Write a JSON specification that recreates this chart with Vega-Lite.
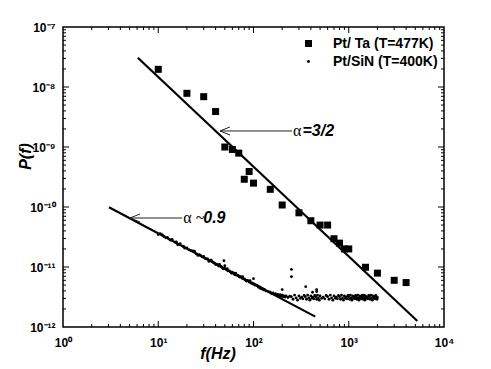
{
  "$schema": "https://vega.github.io/schema/vega-lite/v6.json",
  "width": 381,
  "height": 300,
  "autosize": {"type": "none"},
  "padding": {"left": 63, "top": 27, "right": 47, "bottom": 42},
  "background": "white",
  "config": {
    "view": {"stroke": "black", "strokeWidth": 1.5}
  },
  "data": {"values": [
      {"k": "p", "f": 10, "P": 1.97e-8, "s": "Ta"},
      {"k": "p", "f": 20, "P": 7.85e-9, "s": "Ta"},
      {"k": "p", "f": 30, "P": 6.9e-9, "s": "Ta"},
      {"k": "p", "f": 40, "P": 3.9e-9, "s": "Ta"},
      {"k": "p", "f": 50, "P": 1.0e-9, "s": "Ta"},
      {"k": "p", "f": 60, "P": 9.1e-10, "s": "Ta"},
      {"k": "p", "f": 70, "P": 7.9e-10, "s": "Ta"},
      {"k": "p", "f": 80, "P": 2.9e-10, "s": "Ta"},
      {"k": "p", "f": 90, "P": 3.9e-10, "s": "Ta"},
      {"k": "p", "f": 100, "P": 2.5e-10, "s": "Ta"},
      {"k": "p", "f": 150, "P": 1.97e-10, "s": "Ta"},
      {"k": "p", "f": 200, "P": 1.08e-10, "s": "Ta"},
      {"k": "p", "f": 300, "P": 8.0e-11, "s": "Ta"},
      {"k": "p", "f": 400, "P": 5.9e-11, "s": "Ta"},
      {"k": "p", "f": 500, "P": 5.0e-11, "s": "Ta"},
      {"k": "p", "f": 600, "P": 5.0e-11, "s": "Ta"},
      {"k": "p", "f": 700, "P": 2.96e-11, "s": "Ta"},
      {"k": "p", "f": 800, "P": 2.5e-11, "s": "Ta"},
      {"k": "p", "f": 900, "P": 2.0e-11, "s": "Ta"},
      {"k": "p", "f": 1000, "P": 2.0e-11, "s": "Ta"},
      {"k": "p", "f": 1500, "P": 9.9e-12, "s": "Ta"},
      {"k": "p", "f": 2000, "P": 7.9e-12, "s": "Ta"},
      {"k": "p", "f": 3000, "P": 6.0e-12, "s": "Ta"},
      {"k": "p", "f": 4000, "P": 5.5e-12, "s": "Ta"},
      {"k": "p", "f": 10, "P": 3.48e-11, "s": "SiN"},
      {"k": "p", "f": 10.5, "P": 3.6e-11, "s": "SiN"},
      {"k": "p", "f": 11, "P": 3.45e-11, "s": "SiN"},
      {"k": "p", "f": 11.5, "P": 3.2e-11, "s": "SiN"},
      {"k": "p", "f": 12, "P": 3.06e-11, "s": "SiN"},
      {"k": "p", "f": 12.5, "P": 3.1e-11, "s": "SiN"},
      {"k": "p", "f": 13, "P": 2.92e-11, "s": "SiN"},
      {"k": "p", "f": 13.5, "P": 2.8e-11, "s": "SiN"},
      {"k": "p", "f": 14, "P": 2.88e-11, "s": "SiN"},
      {"k": "p", "f": 15, "P": 2.59e-11, "s": "SiN"},
      {"k": "p", "f": 15.5, "P": 2.62e-11, "s": "SiN"},
      {"k": "p", "f": 16, "P": 2.35e-11, "s": "SiN"},
      {"k": "p", "f": 17, "P": 2.45e-11, "s": "SiN"},
      {"k": "p", "f": 18, "P": 2.23e-11, "s": "SiN"},
      {"k": "p", "f": 18.5, "P": 2.2e-11, "s": "SiN"},
      {"k": "p", "f": 19, "P": 2.06e-11, "s": "SiN"},
      {"k": "p", "f": 20, "P": 2.08e-11, "s": "SiN"},
      {"k": "p", "f": 21, "P": 1.93e-11, "s": "SiN"},
      {"k": "p", "f": 22, "P": 1.88e-11, "s": "SiN"},
      {"k": "p", "f": 23, "P": 1.85e-11, "s": "SiN"},
      {"k": "p", "f": 24, "P": 1.83e-11, "s": "SiN"},
      {"k": "p", "f": 25, "P": 1.66e-11, "s": "SiN"},
      {"k": "p", "f": 26, "P": 1.56e-11, "s": "SiN"},
      {"k": "p", "f": 27, "P": 1.6e-11, "s": "SiN"},
      {"k": "p", "f": 28, "P": 1.54e-11, "s": "SiN"},
      {"k": "p", "f": 29, "P": 1.47e-11, "s": "SiN"},
      {"k": "p", "f": 30, "P": 1.5e-11, "s": "SiN"},
      {"k": "p", "f": 31, "P": 1.4e-11, "s": "SiN"},
      {"k": "p", "f": 32, "P": 1.37e-11, "s": "SiN"},
      {"k": "p", "f": 33, "P": 1.36e-11, "s": "SiN"},
      {"k": "p", "f": 34, "P": 1.24e-11, "s": "SiN"},
      {"k": "p", "f": 35, "P": 1.3e-11, "s": "SiN"},
      {"k": "p", "f": 36, "P": 1.3e-11, "s": "SiN"},
      {"k": "p", "f": 37, "P": 1.22e-11, "s": "SiN"},
      {"k": "p", "f": 38, "P": 1.19e-11, "s": "SiN"},
      {"k": "p", "f": 39, "P": 1.16e-11, "s": "SiN"},
      {"k": "p", "f": 40, "P": 1.1e-11, "s": "SiN"},
      {"k": "p", "f": 41, "P": 1.12e-11, "s": "SiN"},
      {"k": "p", "f": 42, "P": 1.09e-11, "s": "SiN"},
      {"k": "p", "f": 43, "P": 1.04e-11, "s": "SiN"},
      {"k": "p", "f": 44, "P": 1.1e-11, "s": "SiN"},
      {"k": "p", "f": 45, "P": 1.03e-11, "s": "SiN"},
      {"k": "p", "f": 46, "P": 1.01e-11, "s": "SiN"},
      {"k": "p", "f": 47, "P": 9.7e-12, "s": "SiN"},
      {"k": "p", "f": 48, "P": 9.33e-12, "s": "SiN"},
      {"k": "p", "f": 49, "P": 1.27e-11, "s": "SiN"},
      {"k": "p", "f": 50, "P": 1.05e-11, "s": "SiN"},
      {"k": "p", "f": 50, "P": 9.44e-12, "s": "SiN"},
      {"k": "p", "f": 52, "P": 9.0e-12, "s": "SiN"},
      {"k": "p", "f": 53, "P": 9.4e-12, "s": "SiN"},
      {"k": "p", "f": 54, "P": 8.6e-12, "s": "SiN"},
      {"k": "p", "f": 56, "P": 8.59e-12, "s": "SiN"},
      {"k": "p", "f": 57, "P": 8.3e-12, "s": "SiN"},
      {"k": "p", "f": 59, "P": 7.84e-12, "s": "SiN"},
      {"k": "p", "f": 60, "P": 8.2e-12, "s": "SiN"},
      {"k": "p", "f": 62, "P": 7.87e-12, "s": "SiN"},
      {"k": "p", "f": 63, "P": 7.5e-12, "s": "SiN"},
      {"k": "p", "f": 65, "P": 7.9e-12, "s": "SiN"},
      {"k": "p", "f": 66, "P": 7.3e-12, "s": "SiN"},
      {"k": "p", "f": 68, "P": 7.29e-12, "s": "SiN"},
      {"k": "p", "f": 70, "P": 7.1e-12, "s": "SiN"},
      {"k": "p", "f": 71, "P": 6.8e-12, "s": "SiN"},
      {"k": "p", "f": 73, "P": 6.9e-12, "s": "SiN"},
      {"k": "p", "f": 74, "P": 6.79e-12, "s": "SiN"},
      {"k": "p", "f": 76, "P": 6.5e-12, "s": "SiN"},
      {"k": "p", "f": 77, "P": 6.88e-12, "s": "SiN"},
      {"k": "p", "f": 79, "P": 6.3e-12, "s": "SiN"},
      {"k": "p", "f": 80, "P": 6.36e-12, "s": "SiN"},
      {"k": "p", "f": 82, "P": 6.1e-12, "s": "SiN"},
      {"k": "p", "f": 84, "P": 5.83e-12, "s": "SiN"},
      {"k": "p", "f": 86, "P": 6.0e-12, "s": "SiN"},
      {"k": "p", "f": 88, "P": 5.87e-12, "s": "SiN"},
      {"k": "p", "f": 90, "P": 5.6e-12, "s": "SiN"},
      {"k": "p", "f": 92, "P": 5.92e-12, "s": "SiN"},
      {"k": "p", "f": 94, "P": 5.4e-12, "s": "SiN"},
      {"k": "p", "f": 96, "P": 5.45e-12, "s": "SiN"},
      {"k": "p", "f": 98, "P": 5.2e-12, "s": "SiN"},
      {"k": "p", "f": 100, "P": 5.27e-12, "s": "SiN"},
      {"k": "p", "f": 100, "P": 6.4e-12, "s": "SiN"},
      {"k": "p", "f": 103, "P": 5.0e-12, "s": "SiN"},
      {"k": "p", "f": 105, "P": 5.06e-12, "s": "SiN"},
      {"k": "p", "f": 108, "P": 4.9e-12, "s": "SiN"},
      {"k": "p", "f": 110, "P": 4.87e-12, "s": "SiN"},
      {"k": "p", "f": 113, "P": 4.6e-12, "s": "SiN"},
      {"k": "p", "f": 115, "P": 4.69e-12, "s": "SiN"},
      {"k": "p", "f": 118, "P": 4.4e-12, "s": "SiN"},
      {"k": "p", "f": 120, "P": 4.52e-12, "s": "SiN"},
      {"k": "p", "f": 123, "P": 4.3e-12, "s": "SiN"},
      {"k": "p", "f": 125, "P": 4.37e-12, "s": "SiN"},
      {"k": "p", "f": 128, "P": 4.15e-12, "s": "SiN"},
      {"k": "p", "f": 130, "P": 4.23e-12, "s": "SiN"},
      {"k": "p", "f": 135, "P": 4.0e-12, "s": "SiN"},
      {"k": "p", "f": 140, "P": 3.97e-12, "s": "SiN"},
      {"k": "p", "f": 145, "P": 3.85e-12, "s": "SiN"},
      {"k": "p", "f": 150, "P": 3.8e-12, "s": "SiN"},
      {"k": "p", "f": 155, "P": 3.6e-12, "s": "SiN"},
      {"k": "p", "f": 160, "P": 3.7e-12, "s": "SiN"},
      {"k": "p", "f": 165, "P": 3.5e-12, "s": "SiN"},
      {"k": "p", "f": 170, "P": 3.6e-12, "s": "SiN"},
      {"k": "p", "f": 175, "P": 3.4e-12, "s": "SiN"},
      {"k": "p", "f": 180, "P": 3.5e-12, "s": "SiN"},
      {"k": "p", "f": 185, "P": 3.3e-12, "s": "SiN"},
      {"k": "p", "f": 190, "P": 3.45e-12, "s": "SiN"},
      {"k": "p", "f": 195, "P": 3.25e-12, "s": "SiN"},
      {"k": "p", "f": 200, "P": 3.4e-12, "s": "SiN"},
      {"k": "p", "f": 200, "P": 4.2e-12, "s": "SiN"},
      {"k": "p", "f": 205, "P": 3.2e-12, "s": "SiN"},
      {"k": "p", "f": 210, "P": 3.3e-12, "s": "SiN"},
      {"k": "p", "f": 215, "P": 3.15e-12, "s": "SiN"},
      {"k": "p", "f": 220, "P": 3.3e-12, "s": "SiN"},
      {"k": "p", "f": 230, "P": 3.1e-12, "s": "SiN"},
      {"k": "p", "f": 240, "P": 3.25e-12, "s": "SiN"},
      {"k": "p", "f": 250, "P": 9.1e-12, "s": "SiN"},
      {"k": "p", "f": 250, "P": 6.9e-12, "s": "SiN"},
      {"k": "p", "f": 250, "P": 3.2e-12, "s": "SiN"},
      {"k": "p", "f": 260, "P": 2.9e-12, "s": "SiN"},
      {"k": "p", "f": 270, "P": 3.4e-12, "s": "SiN"},
      {"k": "p", "f": 280, "P": 3.05e-12, "s": "SiN"},
      {"k": "p", "f": 290, "P": 2.8e-12, "s": "SiN"},
      {"k": "p", "f": 300, "P": 3.3e-12, "s": "SiN"},
      {"k": "p", "f": 310, "P": 3.0e-12, "s": "SiN"},
      {"k": "p", "f": 320, "P": 3.15e-12, "s": "SiN"},
      {"k": "p", "f": 330, "P": 2.95e-12, "s": "SiN"},
      {"k": "p", "f": 340, "P": 3.35e-12, "s": "SiN"},
      {"k": "p", "f": 350, "P": 3.2e-12, "s": "SiN"},
      {"k": "p", "f": 353, "P": 4.7e-12, "s": "SiN"},
      {"k": "p", "f": 360, "P": 2.9e-12, "s": "SiN"},
      {"k": "p", "f": 370, "P": 3.4e-12, "s": "SiN"},
      {"k": "p", "f": 380, "P": 3.05e-12, "s": "SiN"},
      {"k": "p", "f": 390, "P": 2.8e-12, "s": "SiN"},
      {"k": "p", "f": 400, "P": 3.3e-12, "s": "SiN"},
      {"k": "p", "f": 410, "P": 3.0e-12, "s": "SiN"},
      {"k": "p", "f": 417, "P": 3.8e-12, "s": "SiN"},
      {"k": "p", "f": 420, "P": 3.15e-12, "s": "SiN"},
      {"k": "p", "f": 430, "P": 2.95e-12, "s": "SiN"},
      {"k": "p", "f": 440, "P": 3.35e-12, "s": "SiN"},
      {"k": "p", "f": 450, "P": 3.2e-12, "s": "SiN"},
      {"k": "p", "f": 460, "P": 4.2e-12, "s": "SiN"},
      {"k": "p", "f": 460, "P": 3.9e-12, "s": "SiN"},
      {"k": "p", "f": 460, "P": 2.9e-12, "s": "SiN"},
      {"k": "p", "f": 470, "P": 3.4e-12, "s": "SiN"},
      {"k": "p", "f": 480, "P": 3.05e-12, "s": "SiN"},
      {"k": "p", "f": 490, "P": 2.8e-12, "s": "SiN"},
      {"k": "p", "f": 500, "P": 3.3e-12, "s": "SiN"},
      {"k": "p", "f": 520, "P": 3.0e-12, "s": "SiN"},
      {"k": "p", "f": 540, "P": 3.15e-12, "s": "SiN"},
      {"k": "p", "f": 560, "P": 2.95e-12, "s": "SiN"},
      {"k": "p", "f": 580, "P": 3.35e-12, "s": "SiN"},
      {"k": "p", "f": 600, "P": 3.2e-12, "s": "SiN"},
      {"k": "p", "f": 620, "P": 2.9e-12, "s": "SiN"},
      {"k": "p", "f": 640, "P": 3.4e-12, "s": "SiN"},
      {"k": "p", "f": 660, "P": 3.05e-12, "s": "SiN"},
      {"k": "p", "f": 680, "P": 2.8e-12, "s": "SiN"},
      {"k": "p", "f": 700, "P": 3.3e-12, "s": "SiN"},
      {"k": "p", "f": 720, "P": 3.0e-12, "s": "SiN"},
      {"k": "p", "f": 740, "P": 3.15e-12, "s": "SiN"},
      {"k": "p", "f": 760, "P": 2.95e-12, "s": "SiN"},
      {"k": "p", "f": 780, "P": 3.35e-12, "s": "SiN"},
      {"k": "p", "f": 800, "P": 3.2e-12, "s": "SiN"},
      {"k": "p", "f": 820, "P": 2.9e-12, "s": "SiN"},
      {"k": "p", "f": 840, "P": 3.4e-12, "s": "SiN"},
      {"k": "p", "f": 860, "P": 3.05e-12, "s": "SiN"},
      {"k": "p", "f": 880, "P": 2.8e-12, "s": "SiN"},
      {"k": "p", "f": 900, "P": 3.3e-12, "s": "SiN"},
      {"k": "p", "f": 920, "P": 3.0e-12, "s": "SiN"},
      {"k": "p", "f": 940, "P": 3.15e-12, "s": "SiN"},
      {"k": "p", "f": 960, "P": 2.95e-12, "s": "SiN"},
      {"k": "p", "f": 980, "P": 3.35e-12, "s": "SiN"},
      {"k": "p", "f": 1000, "P": 3.2e-12, "s": "SiN"},
      {"k": "p", "f": 1020, "P": 2.9e-12, "s": "SiN"},
      {"k": "p", "f": 1040, "P": 3.4e-12, "s": "SiN"},
      {"k": "p", "f": 1060, "P": 3.05e-12, "s": "SiN"},
      {"k": "p", "f": 1080, "P": 2.8e-12, "s": "SiN"},
      {"k": "p", "f": 1100, "P": 3.3e-12, "s": "SiN"},
      {"k": "p", "f": 1120, "P": 3.0e-12, "s": "SiN"},
      {"k": "p", "f": 1140, "P": 3.15e-12, "s": "SiN"},
      {"k": "p", "f": 1160, "P": 2.95e-12, "s": "SiN"},
      {"k": "p", "f": 1180, "P": 3.35e-12, "s": "SiN"},
      {"k": "p", "f": 1200, "P": 3.2e-12, "s": "SiN"},
      {"k": "p", "f": 1220, "P": 2.9e-12, "s": "SiN"},
      {"k": "p", "f": 1240, "P": 3.4e-12, "s": "SiN"},
      {"k": "p", "f": 1260, "P": 3.05e-12, "s": "SiN"},
      {"k": "p", "f": 1280, "P": 2.8e-12, "s": "SiN"},
      {"k": "p", "f": 1300, "P": 3.3e-12, "s": "SiN"},
      {"k": "p", "f": 1320, "P": 3.0e-12, "s": "SiN"},
      {"k": "p", "f": 1340, "P": 3.15e-12, "s": "SiN"},
      {"k": "p", "f": 1360, "P": 2.95e-12, "s": "SiN"},
      {"k": "p", "f": 1380, "P": 3.35e-12, "s": "SiN"},
      {"k": "p", "f": 1400, "P": 3.2e-12, "s": "SiN"},
      {"k": "p", "f": 1420, "P": 2.9e-12, "s": "SiN"},
      {"k": "p", "f": 1440, "P": 3.4e-12, "s": "SiN"},
      {"k": "p", "f": 1460, "P": 3.05e-12, "s": "SiN"},
      {"k": "p", "f": 1480, "P": 2.8e-12, "s": "SiN"},
      {"k": "p", "f": 1500, "P": 3.3e-12, "s": "SiN"},
      {"k": "p", "f": 1530, "P": 3.0e-12, "s": "SiN"},
      {"k": "p", "f": 1560, "P": 3.15e-12, "s": "SiN"},
      {"k": "p", "f": 1590, "P": 2.95e-12, "s": "SiN"},
      {"k": "p", "f": 1620, "P": 3.35e-12, "s": "SiN"},
      {"k": "p", "f": 1650, "P": 3.2e-12, "s": "SiN"},
      {"k": "p", "f": 1680, "P": 2.9e-12, "s": "SiN"},
      {"k": "p", "f": 1710, "P": 3.4e-12, "s": "SiN"},
      {"k": "p", "f": 1740, "P": 3.05e-12, "s": "SiN"},
      {"k": "p", "f": 1770, "P": 2.8e-12, "s": "SiN"},
      {"k": "p", "f": 1800, "P": 3.3e-12, "s": "SiN"},
      {"k": "p", "f": 1830, "P": 3.0e-12, "s": "SiN"},
      {"k": "p", "f": 1860, "P": 3.15e-12, "s": "SiN"},
      {"k": "p", "f": 1890, "P": 2.95e-12, "s": "SiN"},
      {"k": "p", "f": 1920, "P": 3.35e-12, "s": "SiN"},
      {"k": "p", "f": 1950, "P": 3.2e-12, "s": "SiN"},
      {"k": "p", "f": 1980, "P": 2.9e-12, "s": "SiN"},
      {"k": "p", "f": 2000, "P": 3.1e-12, "s": "SiN"},
      {"k": "fit", "id": "a", "f": 6.1, "P": 3.08e-8},
      {"k": "fit", "id": "a", "f": 5250, "P": 1.26e-12},
      {"k": "fit", "id": "b", "f": 3.04, "P": 9.9e-11},
      {"k": "fit", "id": "b", "f": 445, "P": 1.49e-12},
      {"k": "shaft", "id": "a", "f": 44.5, "P": 1.85e-9},
      {"k": "shaft", "id": "a", "f": 254, "P": 1.85e-9},
      {"k": "shaft", "id": "b", "f": 5.05, "P": 6.56e-11},
      {"k": "shaft", "id": "b", "f": 17.8, "P": 6.56e-11},
      {"k": "head", "f": 44.5, "P": 1.85e-9},
      {"k": "head", "f": 5.05, "P": 6.56e-11},
      {"k": "greek", "t": "α", "f": 260, "P": 1.85e-9},
      {"k": "greek", "t": "α ~", "f": 18.3, "P": 6.5e-11},
      {"k": "num", "t": "=3/2", "f": 326.8, "P": 1.85e-9},
      {"k": "num", "t": "0.9", "f": 29.7, "P": 6.5e-11},
      {"k": "xM", "v": 10}, {"k": "xM", "v": 100}, {"k": "xM", "v": 1000},
      {"k": "xm", "v": 2}, {"k": "xm", "v": 3}, {"k": "xm", "v": 4}, {"k": "xm", "v": 5}, {"k": "xm", "v": 6}, {"k": "xm", "v": 7}, {"k": "xm", "v": 8}, {"k": "xm", "v": 9},
      {"k": "xm", "v": 20}, {"k": "xm", "v": 30}, {"k": "xm", "v": 40}, {"k": "xm", "v": 50}, {"k": "xm", "v": 60}, {"k": "xm", "v": 70}, {"k": "xm", "v": 80}, {"k": "xm", "v": 90},
      {"k": "xm", "v": 200}, {"k": "xm", "v": 300}, {"k": "xm", "v": 400}, {"k": "xm", "v": 500}, {"k": "xm", "v": 600}, {"k": "xm", "v": 700}, {"k": "xm", "v": 800}, {"k": "xm", "v": 900},
      {"k": "xm", "v": 2000}, {"k": "xm", "v": 3000}, {"k": "xm", "v": 4000}, {"k": "xm", "v": 5000}, {"k": "xm", "v": 6000}, {"k": "xm", "v": 7000}, {"k": "xm", "v": 8000}, {"k": "xm", "v": 9000},
      {"k": "yM", "v": 1e-11}, {"k": "yM", "v": 1e-10}, {"k": "yM", "v": 1e-9}, {"k": "yM", "v": 1e-8},
      {"k": "ym", "v": 2e-12}, {"k": "ym", "v": 3e-12}, {"k": "ym", "v": 4e-12}, {"k": "ym", "v": 5e-12}, {"k": "ym", "v": 6e-12}, {"k": "ym", "v": 7e-12}, {"k": "ym", "v": 8e-12}, {"k": "ym", "v": 9e-12},
      {"k": "ym", "v": 2e-11}, {"k": "ym", "v": 3e-11}, {"k": "ym", "v": 4e-11}, {"k": "ym", "v": 5e-11}, {"k": "ym", "v": 6e-11}, {"k": "ym", "v": 7e-11}, {"k": "ym", "v": 8e-11}, {"k": "ym", "v": 9e-11},
      {"k": "ym", "v": 2e-10}, {"k": "ym", "v": 3e-10}, {"k": "ym", "v": 4e-10}, {"k": "ym", "v": 5e-10}, {"k": "ym", "v": 6e-10}, {"k": "ym", "v": 7e-10}, {"k": "ym", "v": 8e-10}, {"k": "ym", "v": 9e-10},
      {"k": "ym", "v": 2e-9}, {"k": "ym", "v": 3e-9}, {"k": "ym", "v": 4e-9}, {"k": "ym", "v": 5e-9}, {"k": "ym", "v": 6e-9}, {"k": "ym", "v": 7e-9}, {"k": "ym", "v": 8e-9}, {"k": "ym", "v": 9e-9},
      {"k": "ym", "v": 2e-8}, {"k": "ym", "v": 3e-8}, {"k": "ym", "v": 4e-8}, {"k": "ym", "v": 5e-8}, {"k": "ym", "v": 6e-8}, {"k": "ym", "v": 7e-8}, {"k": "ym", "v": 8e-8}, {"k": "ym", "v": 9e-8}
  ]},
  "resolve": {"axis": {"x": "independent", "y": "independent"}},
  "layer": [
    {
      "transform": [{"filter": "datum.k=='p'"}],
      "mark": {"type": "point", "filled": true, "opacity": 1, "color": "black"},
      "encoding": {
        "x": {
          "field": "f", "type": "quantitative",
          "scale": {"type": "log", "domain": [1, 10000], "nice": false},
          "axis": {
            "orient": "bottom",
            "values": [1, 10, 100, 1000, 10000],
            "domain": false,
            "ticks": false,
            "grid": false,
            "labelPadding": 10,
            "labelFlush": false,
            "labelColor": "black",
            "labelFont": "Liberation Sans",
            "labelFontWeight": "bold",
            "labelFontSize": 12,
            "labelExpr": "datum.value==1?'10⁰':datum.value==10?'10¹':datum.value==100?'10²':datum.value==1000?'10³':datum.value==10000?'10⁴':''",
            "title": "f(Hz)",
            "titleColor": "black",
            "titleFont": "Liberation Sans",
            "titleFontSize": 16,
            "titleFontWeight": "bold",
            "titleFontStyle": "italic",
            "titleX": 154.5,
            "titleY": 26,
            "titleAlign": "center",
            "titleBaseline": "middle"
          }
        },
        "y": {
          "field": "P", "type": "quantitative",
          "scale": {"type": "log", "domain": [1e-12, 1e-7], "nice": false},
          "axis": {
            "orient": "left",
            "values": [1e-12, 1e-11, 1e-10, 1e-9, 1e-8, 1e-7],
            "domain": false,
            "ticks": false,
            "grid": false,
            "labelPadding": 8,
            "labelFlush": false,
            "labelColor": "black",
            "labelFont": "Liberation Sans",
            "labelFontWeight": "bold",
            "labelFontSize": 12,
            "labelExpr": "datum.value==1e-12?'10⁻¹²':datum.value==1e-11?'10⁻¹¹':datum.value==1e-10?'10⁻¹⁰':datum.value==1e-9?'10⁻⁹':datum.value==1e-8?'10⁻⁸':datum.value==1e-7?'10⁻⁷':''",
            "title": "P(f)",
            "titleColor": "black",
            "titleFont": "Liberation Sans",
            "titleFontSize": 16,
            "titleFontWeight": "bold",
            "titleFontStyle": "italic",
            "titleX": -38,
            "titleY": 129,
            "titleAlign": "center",
            "titleBaseline": "middle"
          }
        },
        "shape": {
          "field": "s", "type": "nominal",
          "scale": {"domain": ["Ta", "SiN"], "range": ["square", "circle"]},
          "legend": {
            "title": null,
            "orient": "none",
            "legendX": 238.5,
            "legendY": 9.5,
            "padding": 0,
            "labelExpr": "datum.value=='Ta'?'Pt/ Ta (T=477K)':'Pt/SiN (T=400K)'",
            "labelFont": "Liberation Sans",
            "labelFontSize": 14,
            "labelFontWeight": "bold",
            "labelColor": "black",
            "labelOffset": 17.5,
            "symbolFillColor": "black",
            "symbolStrokeWidth": 0,
            "rowPadding": 4
          }
        },
        "size": {
          "field": "s", "type": "nominal",
          "scale": {"type": "point", "domain": ["Ta", "SiN"], "range": [49, 8], "padding": 0}
        }
      }
    },
    {
      "transform": [{"filter": "datum.k=='fit'"}],
      "mark": {"type": "line", "color": "black", "strokeWidth": 2.2},
      "encoding": {
        "x": {"field": "f", "type": "quantitative", "scale": {"type": "log", "domain": [1, 10000], "nice": false}, "axis": null},
        "y": {"field": "P", "type": "quantitative", "scale": {"type": "log", "domain": [1e-12, 1e-7], "nice": false}, "axis": null},
        "detail": {"field": "id"}
      }
    },
    {
      "transform": [{"filter": "datum.k=='shaft'"}],
      "mark": {"type": "line", "color": "#222222", "strokeWidth": 1},
      "encoding": {
        "x": {"field": "f", "type": "quantitative", "scale": {"type": "log", "domain": [1, 10000], "nice": false}, "axis": null},
        "y": {"field": "P", "type": "quantitative", "scale": {"type": "log", "domain": [1e-12, 1e-7], "nice": false}, "axis": null},
        "detail": {"field": "id"}
      }
    },
    {
      "transform": [{"filter": "datum.k=='head'"}],
      "mark": {"type": "point", "shape": "M2,-0.8L0,0L2,0.8", "filled": false, "stroke": "#222222", "strokeWidth": 1, "size": 100, "opacity": 1},
      "encoding": {
        "x": {"field": "f", "type": "quantitative", "scale": {"type": "log", "domain": [1, 10000], "nice": false}, "axis": null},
        "y": {"field": "P", "type": "quantitative", "scale": {"type": "log", "domain": [1e-12, 1e-7], "nice": false}, "axis": null}
      }
    },
    {
      "transform": [{"filter": "datum.k=='greek'"}],
      "mark": {"type": "text", "font": "Liberation Serif", "fontSize": 16, "align": "left", "baseline": "middle", "color": "black"},
      "encoding": {
        "x": {"field": "f", "type": "quantitative", "scale": {"type": "log", "domain": [1, 10000], "nice": false}, "axis": null},
        "y": {"field": "P", "type": "quantitative", "scale": {"type": "log", "domain": [1e-12, 1e-7], "nice": false}, "axis": null},
        "text": {"field": "t"}
      }
    },
    {
      "transform": [{"filter": "datum.k=='num'"}],
      "mark": {"type": "text", "font": "Liberation Sans", "fontSize": 16, "fontWeight": "bold", "fontStyle": "italic", "align": "left", "baseline": "middle", "color": "black"},
      "encoding": {
        "x": {"field": "f", "type": "quantitative", "scale": {"type": "log", "domain": [1, 10000], "nice": false}, "axis": null},
        "y": {"field": "P", "type": "quantitative", "scale": {"type": "log", "domain": [1e-12, 1e-7], "nice": false}, "axis": null},
        "text": {"field": "t"}
      }
    },
    {
      "transform": [{"filter": "datum.k=='xM'"}],
      "mark": {"type": "tick", "orient": "vertical", "size": 6, "thickness": 1, "color": "black", "opacity": 1, "yOffset": -3},
      "encoding": {
        "x": {"field": "v", "type": "quantitative", "scale": {"type": "log", "domain": [1, 10000], "nice": false}, "axis": null},
        "y": {"datum": 1e-12, "type": "quantitative", "scale": {"type": "log", "domain": [1e-12, 1e-7], "nice": false}, "axis": null}
      }
    },
    {
      "transform": [{"filter": "datum.k=='xM'"}],
      "mark": {"type": "tick", "orient": "vertical", "size": 6, "thickness": 1, "color": "black", "opacity": 1, "yOffset": 3},
      "encoding": {
        "x": {"field": "v", "type": "quantitative", "scale": {"type": "log", "domain": [1, 10000], "nice": false}, "axis": null},
        "y": {"datum": 1e-7, "type": "quantitative", "scale": {"type": "log", "domain": [1e-12, 1e-7], "nice": false}, "axis": null}
      }
    },
    {
      "transform": [{"filter": "datum.k=='xm'"}],
      "mark": {"type": "tick", "orient": "vertical", "size": 3, "thickness": 1, "color": "black", "opacity": 1, "yOffset": -1.5},
      "encoding": {
        "x": {"field": "v", "type": "quantitative", "scale": {"type": "log", "domain": [1, 10000], "nice": false}, "axis": null},
        "y": {"datum": 1e-12, "type": "quantitative", "scale": {"type": "log", "domain": [1e-12, 1e-7], "nice": false}, "axis": null}
      }
    },
    {
      "transform": [{"filter": "datum.k=='xm'"}],
      "mark": {"type": "tick", "orient": "vertical", "size": 3, "thickness": 1, "color": "black", "opacity": 1, "yOffset": 1.5},
      "encoding": {
        "x": {"field": "v", "type": "quantitative", "scale": {"type": "log", "domain": [1, 10000], "nice": false}, "axis": null},
        "y": {"datum": 1e-7, "type": "quantitative", "scale": {"type": "log", "domain": [1e-12, 1e-7], "nice": false}, "axis": null}
      }
    },
    {
      "transform": [{"filter": "datum.k=='yM'"}],
      "mark": {"type": "tick", "orient": "horizontal", "size": 6, "thickness": 1, "color": "black", "opacity": 1, "xOffset": 3},
      "encoding": {
        "x": {"datum": 1, "type": "quantitative", "scale": {"type": "log", "domain": [1, 10000], "nice": false}, "axis": null},
        "y": {"field": "v", "type": "quantitative", "scale": {"type": "log", "domain": [1e-12, 1e-7], "nice": false}, "axis": null}
      }
    },
    {
      "transform": [{"filter": "datum.k=='yM'"}],
      "mark": {"type": "tick", "orient": "horizontal", "size": 6, "thickness": 1, "color": "black", "opacity": 1, "xOffset": -3},
      "encoding": {
        "x": {"datum": 10000, "type": "quantitative", "scale": {"type": "log", "domain": [1, 10000], "nice": false}, "axis": null},
        "y": {"field": "v", "type": "quantitative", "scale": {"type": "log", "domain": [1e-12, 1e-7], "nice": false}, "axis": null}
      }
    },
    {
      "transform": [{"filter": "datum.k=='ym'"}],
      "mark": {"type": "tick", "orient": "horizontal", "size": 3, "thickness": 1, "color": "black", "opacity": 1, "xOffset": 1.5},
      "encoding": {
        "x": {"datum": 1, "type": "quantitative", "scale": {"type": "log", "domain": [1, 10000], "nice": false}, "axis": null},
        "y": {"field": "v", "type": "quantitative", "scale": {"type": "log", "domain": [1e-12, 1e-7], "nice": false}, "axis": null}
      }
    },
    {
      "transform": [{"filter": "datum.k=='ym'"}],
      "mark": {"type": "tick", "orient": "horizontal", "size": 3, "thickness": 1, "color": "black", "opacity": 1, "xOffset": -1.5},
      "encoding": {
        "x": {"datum": 10000, "type": "quantitative", "scale": {"type": "log", "domain": [1, 10000], "nice": false}, "axis": null},
        "y": {"field": "v", "type": "quantitative", "scale": {"type": "log", "domain": [1e-12, 1e-7], "nice": false}, "axis": null}
      }
    }
  ]
}
